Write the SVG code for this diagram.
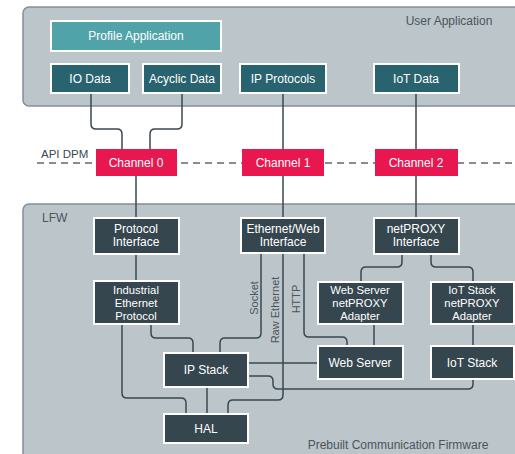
<svg xmlns="http://www.w3.org/2000/svg" width="515" height="454" viewBox="0 0 515 454">
<defs>
<style>
text{font-family:"Liberation Sans",Arial,sans-serif}
.panel{fill:#bcc5ca;stroke:#848f95;stroke-width:1.5}
.plabel{fill:#4a555c;font-size:12px}
.teal{fill:#4fa3a9;stroke:#fff;stroke-width:2}
.dteal{fill:#2a6370;stroke:#fff;stroke-width:2}
.dark{fill:#36464f;stroke:#fff;stroke-width:2}
.chan{fill:#e8174f}
.bt{fill:#fff;font-size:12px;text-anchor:middle}
.bs{fill:#fff;font-size:12px;text-anchor:middle}
.b3{fill:#fff;font-size:11.3px;text-anchor:middle}
.ln{fill:none;stroke:#3a4850;stroke-width:1.5}
.rot{fill:#4a555c;font-size:11px;text-anchor:middle}
</style>
</defs>
<rect width="515" height="454" fill="#fff"/>
<g id="user-application">
<rect class="panel" x="23" y="7" width="510" height="99" rx="6"/>
<text class="plabel" x="449" y="25" text-anchor="middle" font-size="11.5">User Application</text>
</g>
<g id="lfw">
<rect class="panel" x="23" y="204" width="510" height="270" rx="6"/>
<text class="plabel" x="42" y="222">LFW</text>
<text class="plabel" x="398" y="449" text-anchor="middle">Prebuilt Communication Firmware</text>
</g>
<g id="api-dpm">
<line x1="37" y1="163" x2="515" y2="163" stroke="#5c6870" stroke-width="1.5" stroke-dasharray="7,5"/>
<text x="41" y="158" fill="#3a4850" font-size="11.5">API DPM</text>
</g>
<g id="connectors">
<path class="ln" d="M91,93 V124 Q91,129 96,129 H117 Q122,129 122,134 V149"/>
<path class="ln" d="M182,93 V124 Q182,129 177,129 H155 Q150,129 150,134 V149"/>
<path class="ln" d="M283,93 V149"/>
<path class="ln" d="M416,93 V149"/>
<path class="ln" d="M136,176 V218"/>
<path class="ln" d="M283,176 V218"/>
<path class="ln" d="M416,176 V218"/>
<path class="ln" d="M136,254 V281"/>
<path class="ln" d="M122,324 V393 Q122,398 127,398 H181 Q186,398 186,403 V414"/>
<path class="ln" d="M151,324 V333 Q151,338 156,338 H188 Q193,338 193,343 V353"/>
<path class="ln" d="M207,387 V414"/>
<path class="ln" d="M261,253 V333 Q261,338 256,338 H225 Q220,338 220,343 V353"/>
<path class="ln" d="M283,253 V395 Q283,400 278,400 H233 Q228,400 228,405 V414"/>
<path class="ln" d="M304,253 V332 Q304,337 309,337 H342 Q347,337 347,342 V346"/>
<path class="ln" d="M248,363 H318"/>
<path class="ln" d="M248,376 H268 Q273,376 273,381 V384 Q273,389 278,389 H468 Q473,389 473,384 V379"/>
<path class="ln" d="M374,324 V346"/>
<path class="ln" d="M473,324 V346"/>
<path class="ln" d="M402,254 V262 Q402,267 397,267 H366 Q361,267 361,272 V282"/>
<path class="ln" d="M431,254 V262 Q431,267 436,267 H468 Q473,267 473,272 V282"/>
<text class="rot" transform="translate(258,298) rotate(-90)">Socket</text>
<text class="rot" transform="translate(279,310) rotate(-90)">Raw Ethernet</text>
<text class="rot" transform="translate(300,299) rotate(-90)">HTTP</text>
</g>
<g id="profile-application"><rect class="teal" x="51" y="21" width="170" height="30"/><text class="bt" x="136" y="40">Profile Application</text></g>
<g id="io-data"><rect class="dteal" x="51" y="64" width="78" height="29"/><text class="bt" x="90" y="83">IO Data</text></g>
<g id="acyclic-data"><rect class="dteal" x="143" y="64" width="78" height="29"/><text class="bt" x="182" y="83">Acyclic Data</text></g>
<g id="ip-protocols"><rect class="dteal" x="240" y="64" width="86" height="29"/><text class="bt" x="283" y="83">IP Protocols</text></g>
<g id="iot-data"><rect class="dteal" x="374" y="64" width="85" height="29"/><text class="bt" x="416" y="83">IoT Data</text></g>
<g id="channel-0"><rect class="chan" x="96" y="149" width="81" height="27"/><text class="bt" x="136" y="167">Channel 0</text></g>
<g id="channel-1"><rect class="chan" x="242" y="149" width="82" height="27"/><text class="bt" x="283" y="167">Channel 1</text></g>
<g id="channel-2"><rect class="chan" x="375" y="149" width="83" height="27"/><text class="bt" x="416" y="167">Channel 2</text></g>
<g id="protocol-interface"><rect class="dark" x="94" y="218" width="85" height="36"/><text class="bs" x="136" y="233">Protocol</text><text class="bs" x="136" y="246">Interface</text></g>
<g id="ethernet-web-interface"><rect class="dark" x="241" y="218" width="84" height="35"/><text class="bs" x="283" y="233">Ethernet/Web</text><text class="bs" x="283" y="246">Interface</text></g>
<g id="netproxy-interface"><rect class="dark" x="374" y="218" width="85" height="36"/><text class="bs" x="416" y="233">netPROXY</text><text class="bs" x="416" y="246">Interface</text></g>
<g id="industrial-ethernet-protocol"><rect class="dark" x="94" y="281" width="85" height="43"/><text class="b3" x="136" y="293.5">Industrial</text><text class="b3" x="136" y="306.5">Ethernet</text><text class="b3" x="136" y="319.5">Protocol</text></g>
<g id="web-server-netproxy-adapter"><rect class="dark" x="318" y="282" width="85" height="42"/><text class="b3" x="360" y="294">Web Server</text><text class="b3" x="360" y="307">netPROXY</text><text class="b3" x="360" y="320">Adapter</text></g>
<g id="iot-stack-netproxy-adapter"><rect class="dark" x="431" y="282" width="83" height="42"/><text class="b3" x="472" y="294">IoT Stack</text><text class="b3" x="472" y="307">netPROXY</text><text class="b3" x="472" y="320">Adapter</text></g>
<g id="web-server"><rect class="dark" x="318" y="346" width="85" height="33"/><text class="bs" x="360" y="367">Web Server</text></g>
<g id="iot-stack"><rect class="dark" x="431" y="346" width="83" height="33"/><text class="bs" x="472" y="367">IoT Stack</text></g>
<g id="ip-stack"><rect class="dark" x="164" y="353" width="84" height="34"/><text class="bs" x="206" y="374">IP Stack</text></g>
<g id="hal"><rect class="dark" x="164" y="414" width="84" height="29"/><text class="bs" x="206" y="433">HAL</text></g>
</svg>
